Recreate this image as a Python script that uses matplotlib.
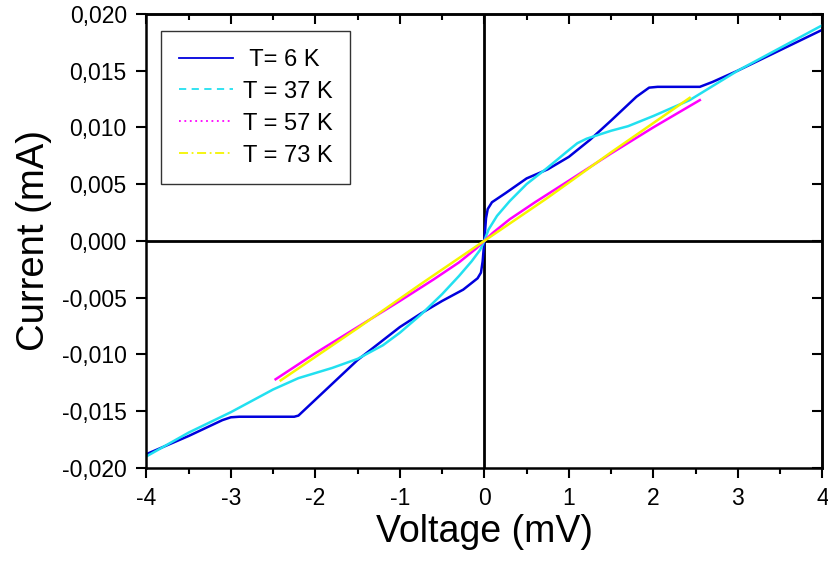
import numpy as np
import matplotlib.pyplot as plt
from matplotlib.lines import Line2D
from matplotlib.ticker import FuncFormatter, MultipleLocator

plt.rcParams['font.family'] = ['Liberation Sans', 'DejaVu Sans']

# T = 6 K
v_6k = [-4.0, -3.5, -3.1, -3.0, -2.9, -2.25, -2.2, -1.9, -1.5, -1.0, -0.75, -0.5, -0.25,
        -0.08, -0.04, -0.02, 0.0, 0.02, 0.04, 0.09, 0.25, 0.5, 0.75, 1.0, 1.25, 1.5, 1.8,
        1.95, 2.05, 2.55, 2.7, 3.0, 3.5, 4.0]
i_6k = [-0.0188, -0.0172, -0.0158, -0.01555, -0.0155, -0.0155, -0.0154, -0.0133, -0.0105,
        -0.0076, -0.0064, -0.0053, -0.0043, -0.0033, -0.0028, -0.0018, 0.0, 0.0020, 0.0028,
        0.0034, 0.0042, 0.0055, 0.0063, 0.0074, 0.0089, 0.0106, 0.0127, 0.0135, 0.01357,
        0.01357, 0.0140, 0.0150, 0.0168, 0.0186]

# T = 37 K
v_37k = [-4.0, -3.5, -3.0, -2.5, -2.2, -1.8, -1.5, -1.2, -1.0, -0.75, -0.5, -0.3, -0.15,
         -0.05, 0.0, 0.05, 0.15, 0.3, 0.5, 0.74, 1.0, 1.1, 1.21, 1.5, 1.7, 2.0, 2.43, 3.0,
         3.5, 4.0]
i_37k = [-0.0190, -0.0169, -0.0151, -0.0131, -0.0121, -0.0112, -0.0104, -0.0092, -0.0081,
         -0.0065, -0.0047, -0.0031, -0.0018, -0.0008, 0.0, 0.0010, 0.0022, 0.0035, 0.0050,
         0.0064, 0.0080, 0.0086, 0.0090, 0.0097, 0.0101, 0.0110, 0.0124, 0.0150, 0.0170,
         0.0190]

# T = 57 K
v_57k = [-2.47, -2.0, -1.5, -1.0, -0.6, -0.3, -0.1, 0.0, 0.1, 0.3, 0.6, 1.0, 1.5, 2.0, 2.55]
i_57k = [-0.0122, -0.0099, -0.0076, -0.0053, -0.0034, -0.0019, -0.0007, 0.0, 0.0007,
         0.0019, 0.0034, 0.0053, 0.0077, 0.0100, 0.0124]

# T = 73 K
v_73k = [-2.41, -1.5, -0.75, 0.0, 0.75, 1.5, 2.43]
i_73k = [-0.0123, -0.0077, -0.0038, 0.0, 0.0038, 0.0078, 0.0126]

labels = [' T= 6 K', 'T = 37 K', 'T = 57 K', 'T = 73 K']
colors = ['#0000dd', '#22e0f0', '#ff00ff', '#f5f500']
styles = ['-', (0, (4, 3)), (0, (1, 2)), (0, (5, 2, 1, 2))]

fig = plt.figure(figsize=(8.29, 5.66), dpi=100)
ax = fig.add_axes([0.1765, 0.1735, 0.8155, 0.802])

ax.axhline(0, color='black', lw=2.0, zorder=1)
ax.axvline(0, color='black', lw=2.0, zorder=1)

series = [(v_6k, i_6k), (v_37k, i_37k), (v_57k, i_57k), (v_73k, i_73k)]
for (v, i), c in zip(series, colors):
    ax.plot(v, i, color=c, lw=1.8, zorder=2)

ax.set_xlim(-4, 4)
ax.set_ylim(-0.020, 0.020)
ax.xaxis.set_major_locator(MultipleLocator(1))
ax.xaxis.set_minor_locator(MultipleLocator(0.5))
ax.yaxis.set_major_locator(MultipleLocator(0.005))
ax.yaxis.set_major_formatter(FuncFormatter(lambda y, p: f"{y:.3f}".replace('.', ',').replace('-0,000', '0,000')))
ax.xaxis.set_major_formatter(FuncFormatter(lambda x, p: f"{x:.0f}"))

ax.tick_params(which='major', direction='out', length=7, width=1.5, labelsize=16.5, pad=7)
ax.tick_params(which='minor', direction='out', length=4, width=1.5)
for s in ax.spines.values():
    s.set_linewidth(1.8)

top = ax.secondary_xaxis('top')
top.xaxis.set_major_locator(MultipleLocator(1))
top.xaxis.set_minor_locator(MultipleLocator(0.5))
top.tick_params(which='major', direction='in', length=7, width=1.5, labeltop=False)
top.tick_params(which='minor', direction='in', length=4, width=1.5)
top.spines['top'].set_linewidth(1.8)

right = ax.secondary_yaxis('right')
right.yaxis.set_major_locator(MultipleLocator(0.005))
right.tick_params(which='major', direction='in', length=7, width=1.5, labelright=False)
right.spines['right'].set_linewidth(1.8)

ax.set_xlabel('Voltage (mV)', fontsize=27, labelpad=3)
ax.set_ylabel('Current (mA)', fontsize=27.5, labelpad=7)

handles = [Line2D([], [], color=c, lw=1.3, linestyle=ls) for c, ls in zip(colors, styles)]
leg = ax.legend(handles, labels, loc='upper left', bbox_to_anchor=(0.022, 0.962),
                fontsize=17, frameon=True, fancybox=False, edgecolor='black',
                handlelength=2.3, handletextpad=0.4, labelspacing=0.42,
                borderpad=0.75, borderaxespad=0.0)
leg.get_frame().set_linewidth(1.0)

fig.savefig('out.png', dpi=100)
